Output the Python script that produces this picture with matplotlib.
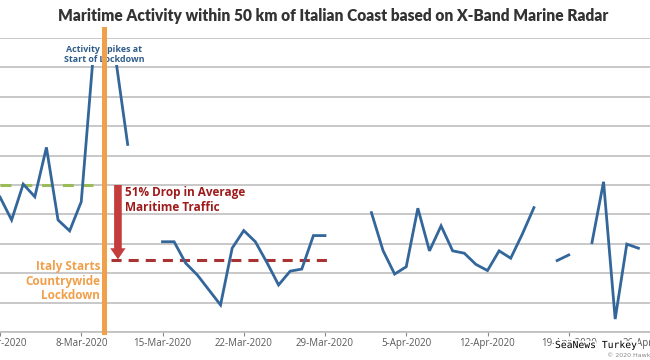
import numpy as np
import matplotlib as mpl
mpl.use('Agg')
import matplotlib.pyplot as plt
import matplotlib.dates as mdates
import matplotlib.patheffects as pe
from matplotlib.patches import Rectangle
from datetime import datetime, timedelta

# daily activity index (one value per day from 1-Mar-2020, nan = no data)
start = datetime(2020, 3, 1)
march = [4.59, 3.81, 5.03, 4.60, 6.28, 3.81, 3.44, 4.43, 9.25, 9.9,
         9.2, 6.38, np.nan, np.nan, 3.07, 3.07, 2.34, 1.94, 1.43, 0.92,
         2.85, 3.45, 3.07, 2.36, 1.60, 2.07, 2.14, 3.28, 3.28, np.nan, np.nan]
april = [np.nan, 4.06, 2.77, 1.97, 2.22, 4.21, 2.76, 3.61, 2.76, 2.68,
         2.30, 2.09, 2.76, 2.51, 3.33, 4.23, np.nan, 2.43, 2.62, np.nan,
         3.04, 5.11, 0.44, 2.99, 2.85]
activity = march + april
days = [start + timedelta(days=i) for i in range(len(activity))]

avg_before = 5.0
avg_after = 2.45
lockdown_day = datetime(2020, 3, 10)

tick_days = [datetime(2020, 3, 1) + timedelta(days=7 * i) for i in range(9)]
tick_labels = ['1-Mar-2020', '8-Mar-2020', '15-Mar-2020', '22-Mar-2020',
               '29-Mar-2020', '5-Apr-2020', '12-Apr-2020', '19-Apr-2020',
               '26-Apr-2020']

blue = '#33669A'
orange = '#F0A04B'
darkred = '#9E1B1B'

fig = plt.figure(figsize=(6.5, 3.6), dpi=100)
ax = fig.add_axes([0, 28 / 360, 1, 1 - 66 / 360])

x = mdates.date2num(days)
ax.plot(x, activity, color=blue, lw=2.0, zorder=3, solid_joinstyle='miter')

t0 = mdates.date2num(start)
ax.plot([t0, t0 + 8], [avg_before, avg_before], color='#9BBB59', lw=2.2,
        dashes=(3.6, 3.2), zorder=2)
ax.plot([t0 + 9.55, t0 + 28.3], [avg_after, avg_after], color='#A93232',
        lw=2.2, dashes=(3.3, 2.3), zorder=2)

ax.axvline(mdates.date2num(lockdown_day), ymin=0, ymax=1.03, color=orange,
           lw=3.6, zorder=5, clip_on=False)

ax.annotate('', xy=(t0 + 10.16, avg_after + 0.02),
            xytext=(t0 + 10.16, avg_before),
            arrowprops=dict(width=5.5, headwidth=11, headlength=8,
                            color='#C43C3C', shrink=0, lw=0), zorder=3)

ax.text(t0 + 10.75, 4.95, '51% Drop in Average\nMaritime Traffic',
        color=darkred, fontsize=8.5, fontweight='bold', family='Open Sans',
        ha='left', va='top', linespacing=1.15)
ax.text(t0 + 8.64, 1.73, 'Italy Starts\nCountrywide\nLockdown',
        color=orange, fontsize=8.5, fontweight='bold', family='Open Sans',
        ha='right', va='center', multialignment='right', linespacing=1.15)

# white label box hiding the top of the spike
ax.add_patch(Rectangle((t0 + 5.7, 9.08), 6.8, 0.88, facecolor='white',
                       edgecolor='none', zorder=4))
ax.text(mdates.date2num(lockdown_day), 9.45,
        'Activity Spikes at\nStart of Lockdown', color='#2E5C8A',
        fontsize=6.4, fontweight='bold', family='Open Sans', ha='center',
        va='center', linespacing=1.1, zorder=4.5)

ax.set_ylim(0, 10)
ax.set_yticks(np.arange(0, 11, 1))
ax.set_xlim(t0 + 0.22, t0 + 54.98)
ax.set_xticks(mdates.date2num(tick_days))
ax.set_xticklabels(tick_labels, fontsize=7, color='#595959',
                   family='Open Sans')
ax.tick_params(axis='x', length=3, color='#888888', pad=1.5)
ax.tick_params(axis='y', left=False, labelleft=False)
ax.grid(axis='y', color='#BFBFBF', lw=1.2, zorder=0)
ax.set_axisbelow(True)
for side in ['left', 'right', 'top']:
    ax.spines[side].set_visible(False)
ax.spines['bottom'].set_color('#BFBFBF')
ax.spines['bottom'].set_linewidth(1.2)

title = fig.text(0.512, 1 - 16.5 / 360,
                 'Maritime Activity within 50 km of Italian Coast based on X-Band Marine Radar',
                 ha='center', va='center', fontsize=12, fontweight='heavy',
                 color='#333333', family='Lato')
# shrink the title so it spans about the same width as the original
r = fig.canvas.get_renderer()
w = title.get_window_extent(r).width
title.set_fontsize(12 * 547 / w)

fig.text(555 / 650, 1 - 345 / 360, 'SeaNews Turkey', family='DejaVu Sans Mono',
         fontsize=7, color='black', ha='left', va='center',
         path_effects=[pe.withStroke(linewidth=2.5, foreground='white')])
fig.text(607 / 650, 1 - 355 / 360, '\u00a9 2020 HawkEye 360', fontsize=4.5,
         color='#888888', ha='left', va='center')

plt.savefig('out.png', dpi=100)
